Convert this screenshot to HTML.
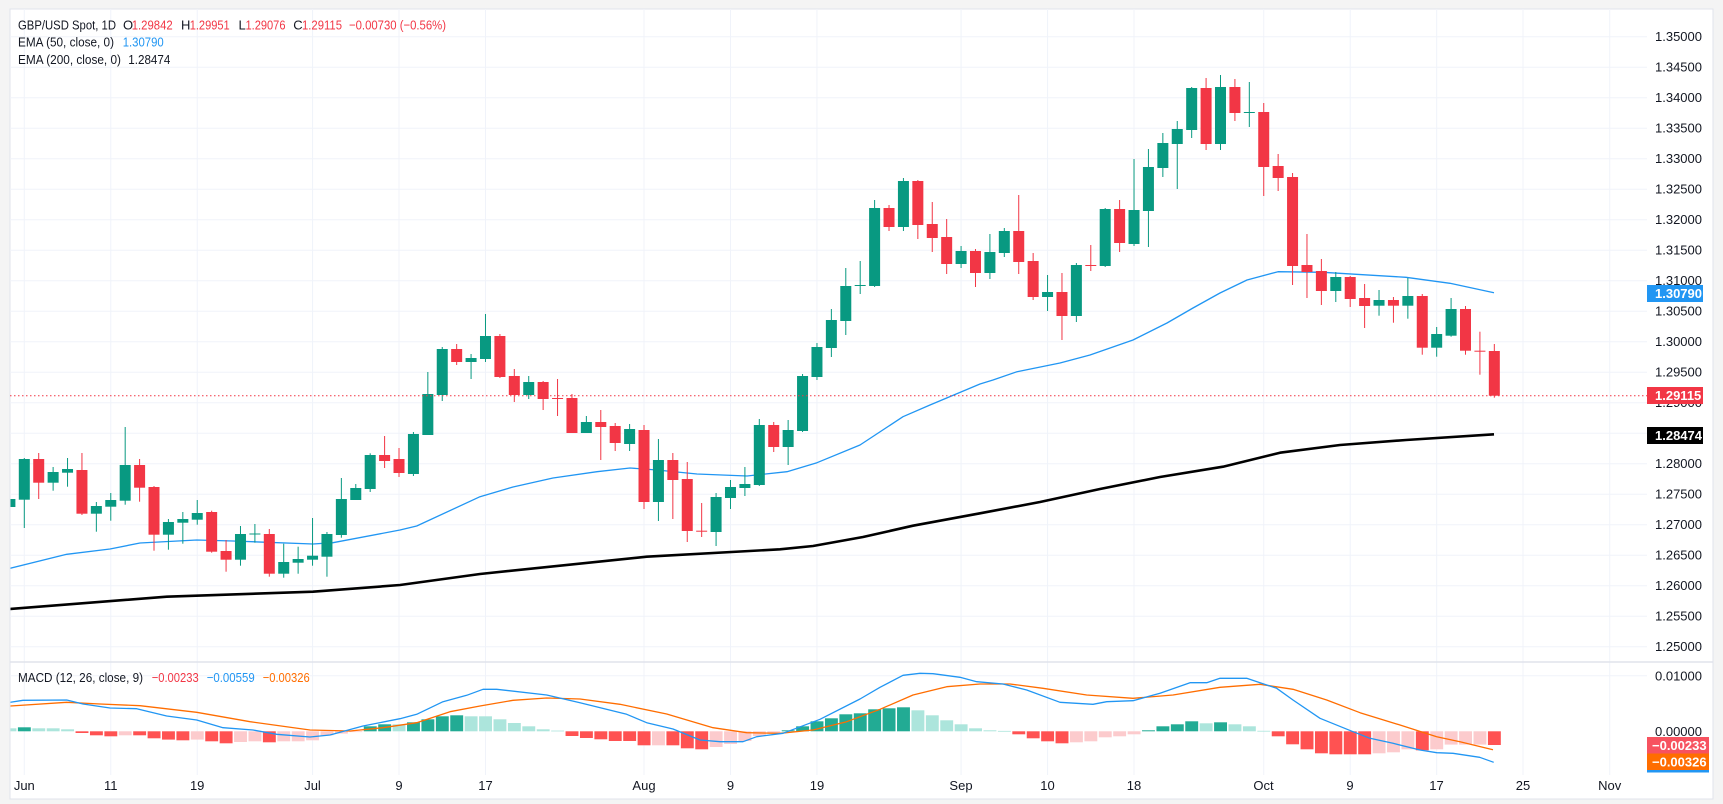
<!DOCTYPE html>
<html><head><meta charset="utf-8">
<style>
html,body{margin:0;padding:0;background:#f4f4f4;}
svg{display:block;font-family:"Liberation Sans",sans-serif;}
</style></head>
<body>
<svg id="c" width="1723" height="804" xmlns="http://www.w3.org/2000/svg">
<rect x="10" y="9" width="1703" height="790" fill="#ffffff" stroke="#e0e3eb" stroke-width="1"/>
<g id="grid"></g>
<g id="lines"></g>
<g id="cand"></g>
<g id="hist"></g>
<g id="mlines"></g>
<line x1="10" y1="662" x2="1713" y2="662" stroke="#e0e3eb" stroke-width="1.5"/>
<line x1="10" y1="395.7" x2="1647" y2="395.7" stroke="#f23645" stroke-width="1" stroke-dasharray="1.5,2.5"/>
<g font-size="13" fill="#131722">
<text x="1655" y="41">1.35000</text>
<text x="1655" y="71.5">1.34500</text>
<text x="1655" y="102">1.34000</text>
<text x="1655" y="132.5">1.33500</text>
<text x="1655" y="163">1.33000</text>
<text x="1655" y="193.5">1.32500</text>
<text x="1655" y="224">1.32000</text>
<text x="1655" y="254.5">1.31500</text>
<text x="1655" y="285">1.31000</text>
<text x="1655" y="315.5">1.30500</text>
<text x="1655" y="346">1.30000</text>
<text x="1655" y="376.5">1.29500</text>
<text x="1655" y="407">1.29000</text>
<text x="1655" y="468">1.28000</text>
<text x="1655" y="498.5">1.27500</text>
<text x="1655" y="529">1.27000</text>
<text x="1655" y="559.5">1.26500</text>
<text x="1655" y="590">1.26000</text>
<text x="1655" y="620.5">1.25500</text>
<text x="1655" y="651">1.25000</text>
<text x="1655" y="680.5">0.01000</text>
<text x="1655" y="736">0.00000</text>
</g>
<rect x="1647" y="285" width="56" height="17" fill="#2196f3"/>
<text x="1655" y="298" font-size="13" font-weight="bold" fill="#fff">1.30790</text>
<rect x="1647" y="387" width="56" height="17" fill="#f23645"/>
<text x="1655" y="400" font-size="13" font-weight="bold" fill="#fff">1.29115</text>
<rect x="1647" y="427" width="56" height="17" fill="#000"/>
<text x="1655" y="440" font-size="13" font-weight="bold" fill="#fff">1.28474</text>
<rect x="1647" y="770" width="62" height="2.5" fill="#2196f3"/>
<rect x="1647" y="737" width="62" height="16.5" fill="#f7525f"/>
<text x="1652" y="750" font-size="13" font-weight="bold" fill="#fff">−0.00233</text>
<rect x="1647" y="753.5" width="62" height="16.5" fill="#ff6d00"/>
<text x="1652" y="766.5" font-size="13" font-weight="bold" fill="#fff">−0.00326</text>
<g font-size="13" fill="#131722" text-anchor="middle">
<text x="24.3" y="790">Jun</text>
<text x="110.8" y="790">11</text>
<text x="197.2" y="790">19</text>
<text x="312.5" y="790">Jul</text>
<text x="399" y="790">9</text>
<text x="485.5" y="790">17</text>
<text x="644" y="790">Aug</text>
<text x="730.5" y="790">9</text>
<text x="817" y="790">19</text>
<text x="961" y="790">Sep</text>
<text x="1047.5" y="790">10</text>
<text x="1134" y="790">18</text>
<text x="1263.5" y="790">Oct</text>
<text x="1350" y="790">9</text>
<text x="1436.5" y="790">17</text>
<text x="1523" y="790">25</text>
<text x="1609.7" y="790">Nov</text>
</g>
<g font-size="13" lengthAdjust="spacingAndGlyphs">
<text x="18" y="29.5" fill="#131722" textLength="98" lengthAdjust="spacingAndGlyphs">GBP/USD Spot, 1D</text>
<text x="123" y="29.5" fill="#131722">O</text>
<text x="131.7" y="29.5" fill="#f23645" textLength="41" lengthAdjust="spacingAndGlyphs">1.29842</text>
<text x="181" y="29.5" fill="#131722">H</text>
<text x="189.7" y="29.5" fill="#f23645" textLength="40" lengthAdjust="spacingAndGlyphs">1.29951</text>
<text x="238.5" y="29.5" fill="#131722">L</text>
<text x="245.5" y="29.5" fill="#f23645" textLength="40" lengthAdjust="spacingAndGlyphs">1.29076</text>
<text x="293.3" y="29.5" fill="#131722">C</text>
<text x="302" y="29.5" fill="#f23645" textLength="40" lengthAdjust="spacingAndGlyphs">1.29115</text>
<text x="349" y="29.5" fill="#f23645" textLength="97" lengthAdjust="spacingAndGlyphs">−0.00730 (−0.56%)</text>
<text x="18" y="46.5" fill="#131722" textLength="96" lengthAdjust="spacingAndGlyphs">EMA (50, close, 0)</text>
<text x="122.7" y="46.5" fill="#2196f3" textLength="41" lengthAdjust="spacingAndGlyphs">1.30790</text>
<text x="18" y="64" fill="#131722" textLength="103" lengthAdjust="spacingAndGlyphs">EMA (200, close, 0)</text>
<text x="128.3" y="64" fill="#131722" textLength="42" lengthAdjust="spacingAndGlyphs">1.28474</text>
<text x="18" y="682" fill="#131722" textLength="125" lengthAdjust="spacingAndGlyphs">MACD (12, 26, close, 9)</text>
<text x="151.7" y="682" fill="#f23645" textLength="47" lengthAdjust="spacingAndGlyphs">−0.00233</text>
<text x="206.7" y="682" fill="#2196f3" textLength="48" lengthAdjust="spacingAndGlyphs">−0.00559</text>
<text x="262.7" y="682" fill="#ff6d00" textLength="47" lengthAdjust="spacingAndGlyphs">−0.00326</text>
</g>
</svg>
<script>
(function(){
var NS="http://www.w3.org/2000/svg";
function el(p,t,a){var e=document.createElementNS(NS,t);for(var k in a)e.setAttribute(k,a[k]);p.appendChild(e);return e;}
function X(i){return 24.3+(i-1)*14.412;}
var grid=document.getElementById('grid');
for(var k=0;k<=20;k++){var y=36.7+k*30.5;el(grid,'line',{x1:10,x2:1647,y1:y,y2:y,stroke:'#f0f3fa','stroke-width':1});}
[675.7].forEach(function(y){el(grid,'line',{x1:10,x2:1647,y1:y,y2:y,stroke:'#f0f3fa','stroke-width':1});});
var vx=[1,7,13,21,27,33,44,50,56,66,72,78,87,93,99].map(X).concat([1523,1609.7]);
vx.forEach(function(x){el(grid,'line',{x1:x,x2:x,y1:9,y2:775,stroke:'#f0f3fa','stroke-width':1});});
var C=[[507,499,497,510],[499.7,459,458,528],[459,482.7,453,499],[482.7,472,467,490.7],[472.7,469,458,486.7],[470,513.7,453,515],[513.7,506,502,531.7],[506.7,500,493,520.7],[500.7,465,427,504.7],[465,487.7,459,501.7],[487,534.7,486,550.7],[534.7,522,519,549.7],[522.7,519,512,543.7],[519.7,513,500,524.7],[512,551.7,510.7,552.7],[551,559.7,540,571.7],[559.7,534,526,565.7],[534,533.5,524,542.7],[534,573.7,529,576.7],[573.7,562,543.7,577.7],[562.7,559,546.7,573.7],[559.7,555.7,518,565.7],[556.7,534,532,576.7],[535,499,478,537.7],[500,488,484,500],[489,455,453.3,492],[455,461,436,468],[459,473,448,477],[474,434,432,476],[435,394,372,435],[395,349,347,401],[349,362,344,365],[362,358,354,379],[359,336,314,362],[336,377,334,378],[376,395,369,402],[395,382,376,399],[382,399,381,410],[398,399,379,416],[398,433,394,433],[433,422,416,433],[422,427,410,460],[426,443,423,451],[444,429,424,451],[430,502,425,509],[502,460,439,521],[460,480,453,519],[479,531,462,542],[530.7,531.3,503,537],[532,497,493,546],[498,487,480,509],[488,484,467,496],[485,425,419,486],[425,447,422,452],[447,430,420,465],[431,376,374,432],[377,347,343,380],[348,320,309,357],[321,286,268,335],[285.7,285,261,294],[286,208,200,287],[208,227,205,231],[227,181,178,231],[181,225,180,239],[224,238,202,252],[237,264,219,274],[264,251,246,268],[251,273,249,287],[273,252,234,279],[253,231,228,257],[231,262,195,274],[261,297,253,300],[297,292,275,311],[292,316,273,340],[316,265,263,322],[265,265.7,245,271],[266,209,208,267],[209,243,200,252],[244,210,159,246],[211,167,149,247],[168,143,133,177],[144,129,121,189],[130,88,87,138],[88,144,78,150],[144,87,75,150],[87,113,79,121],[112.7,112,82,127],[112,167,103,196],[166,178,154,191],[177,266,173,285],[265,272,234,298],[271,291,259,305],[291,277,272,302],[277,299,276,307],[298,306,284,328],[305.7,300,290,315.7],[300,305.7,297,322.7],[305.7,296,278,318.7],[296,347.7,294,354.7],[347.7,334,327,356.7],[335.7,309,298,336.7],[309,350.7,306,354.7],[350.7,351.3,331.7,374.7],[351,395.7,344,397.7]];
var cg=document.getElementById('cand');
var clip=el(document.getElementById('c'),'clipPath',{id:'cp'});el(clip,'rect',{x:10.5,y:9,width:1636,height:653});
cg.setAttribute('clip-path','url(#cp)');
C.forEach(function(d,i){var x=X(i);var col=d[1]<d[0]?'#089981':'#f23645';
el(cg,'rect',{x:x-0.5,y:d[2],width:1,height:Math.max(1,d[3]-d[2]),fill:col});
var t=Math.min(d[0],d[1]),h=Math.max(1,Math.abs(d[1]-d[0]));
el(cg,'rect',{x:x-5.5,y:t,width:11,height:h,fill:col});});
function poly(g,pts,col,w){el(g,'polyline',{points:pts.map(function(p){return p.join(',');}).join(' '),fill:'none',stroke:col,'stroke-width':w,'stroke-linejoin':'round'});}
var lg=document.getElementById('lines');lg.setAttribute('clip-path','url(#cp)');
poly(lg,[[10,568.3],[66.7,554.3],[110,549],[140,543],[196.7,540],[233,541],[313,544],[333,542.7],[400,530],[416.7,526],[480,496.7],[513,487],[553,478],[597,471.7],[630,468],[657,470],[697,474],[747,476],[787,471.7],[817,462.7],[860,445],[903,416.7],[930,405],[980,384],[993,380],[1017,371.7],[1060,363],[1090,355],[1133,340],[1167,323],[1193,308],[1220,293],[1247,280],[1278,271.7],[1323,272.3],[1406,277.3],[1450,283.3],[1494,292.7]],'#2196f3',1.3);
poly(lg,[[10,609],[166.7,596.7],[313,591.7],[400,585],[480,574],[646.7,556.7],[780,549.3],[813,546],[863,537],[913,525.7],[980,513.3],[1040,502],[1100,489],[1160,477],[1223,466.7],[1280,452.7],[1340,445],[1406,440],[1494,434.3]],'#000000',2.6);
var H=[[3,'L'],[4,'D'],[3,'L'],[3,'L'],[2,'L'],[-1.7,'R'],[-4,'R'],[-5,'R'],[-4,'P'],[-4,'R'],[-7,'R'],[-8.3,'R'],[-9,'R'],[-8.3,'P'],[-10,'R'],[-12,'R'],[-10.7,'P'],[-10,'P'],[-11,'R'],[-10,'P'],[-10,'P'],[-9,'P'],[-4,'P'],[-2.3,'P'],[-0.5,'P'],[5,'D'],[7,'D'],[7,'L'],[9,'D'],[12,'D'],[15,'D'],[16,'D'],[15,'L'],[15,'L'],[12,'L'],[8.3,'L'],[5,'L'],[2,'L'],[0.7,'L'],[-4.7,'R'],[-6.7,'R'],[-8,'R'],[-9.7,'R'],[-9.7,'R'],[-14,'R'],[-14,'P'],[-14,'R'],[-17,'R'],[-18,'R'],[-15.7,'P'],[-12.7,'P'],[-9.7,'P'],[-4.7,'P'],[-2.3,'P'],[1,'D'],[5,'D'],[10,'D'],[13,'D'],[17,'D'],[18,'D'],[22,'D'],[23,'D'],[24,'D'],[21,'L'],[16,'L'],[11,'L'],[7,'L'],[3,'L'],[1,'L'],[0.4,'L'],[-3,'R'],[-7,'R'],[-10,'R'],[-12,'R'],[-11,'P'],[-10,'P'],[-6,'P'],[-5,'P'],[-3,'P'],[1,'D'],[5,'D'],[7,'D'],[10,'D'],[8,'L'],[9,'D'],[7,'L'],[5,'L'],[0.5,'L'],[-5,'R'],[-13,'R'],[-18,'R'],[-22,'R'],[-23,'R'],[-23,'R'],[-23,'R'],[-22,'P'],[-21,'P'],[-18,'P'],[-19,'R'],[-18,'P'],[-13.3,'P'],[-13.3,'P'],[-13.3,'P'],[-13.7,'R']];
var colmap={D:'#22ab94',L:'#ace5dc',R:'#ff5252',P:'#fccbcd'};
var hg=document.getElementById('hist');
var clip2=el(document.getElementById('c'),'clipPath',{id:'cp2'});el(clip2,'rect',{x:10.5,y:663,width:1636,height:120});
hg.setAttribute('clip-path','url(#cp2)');
var Z=731.3;
H.forEach(function(d,i){var x=X(i);var v=d[0];var y=v>0?Z-v:Z;var h=Math.max(0.8,Math.abs(v));
el(hg,'rect',{x:x-6.4,y:y,width:12.9,height:h,fill:colmap[d[1]]});});
var mg=document.getElementById('mlines');mg.setAttribute('clip-path','url(#cp2)');
poly(mg,[[10,706],[66.7,702.3],[100,704],[140,705.7],[196.7,712.3],[250,721.7],[310,730],[350,731],[383,727.7],[416.7,722.7],[450,711.7],[480,706],[513,700.3],[546.7,698],[580,699],[620,704.3],[666.7,714],[713,727.7],[746.7,732.7],[780,733.3],[813,730],[846.7,721.7],[880,709.3],[913,695],[946.7,686.7],[980,684],[1010,684],[1043,688.3],[1086.7,695],[1133,698.3],[1173,695],[1220,687.3],[1260,684.3],[1293,689.3],[1326.7,700],[1360,712.7],[1400,725],[1436.7,736.7],[1460,741.7],[1493,749.7]],'#ff6d00',1.3);
poly(mg,[[10,702.3],[23,700.3],[66.7,700],[83,704],[110,708],[136.7,708.7],[166.7,716],[196.7,720],[223,727.7],[253,730],[276.7,734.3],[310,737],[330,735],[363,726],[400,718.7],[416.7,714.3],[443,701.7],[466.7,695.3],[483,689.3],[496.7,689.3],[546.7,695],[580,702.7],[626.7,714.3],[646.7,722.7],[673,729],[700,740],[720,741.7],[743,741.7],[756.7,736.7],[783,733.3],[820,719.3],[860,699],[880,687.3],[903,675.3],[920,673.3],[933,673.7],[960,677.3],[976.7,681.7],[1003,684],[1026.7,690],[1060,702.3],[1093,704.3],[1106.7,701.7],[1133,700.7],[1160,693.3],[1190,682.7],[1206.7,682.7],[1220,678.3],[1246.7,678.3],[1276.7,688.3],[1293,700],[1320,718.3],[1353,731.7],[1370,738.3],[1393,743.3],[1420,750],[1436.7,752.7],[1453,753.3],[1479.7,757.3],[1493.7,762.3]],'#2196f3',1.3);
})();
</script>
</body></html>
